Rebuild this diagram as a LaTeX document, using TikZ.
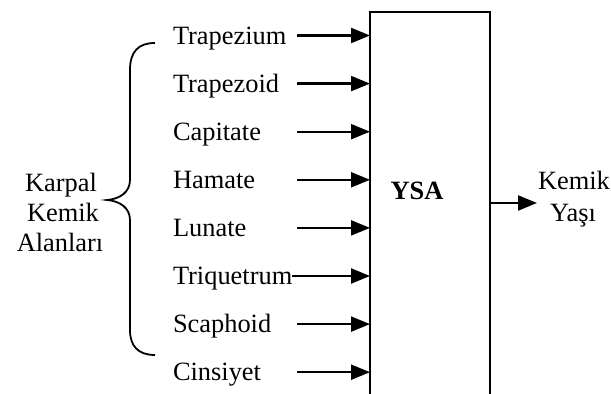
\documentclass[tikz,border=0pt]{standalone}
\usepackage{fontspec}
\setmainfont{Liberation Serif}
\usetikzlibrary{arrows.meta}
\begin{document}
\begin{tikzpicture}[x=0.5pt,y=-0.5pt,
  every node/.style={inner sep=0pt, outer sep=0pt, font=\fontsize{13.2}{15}\selectfont},
  inlabel/.style={anchor=west, text height=8.6pt, text depth=0pt},
  sidelabel/.style={anchor=base},
  arr/.style={line width=1.1pt, -{Triangle[length=9.5pt,width=7.5pt]}},
  blockbox/.style={draw, line width=1.1pt, minimum width=60pt, minimum height=196pt},
  bracestyle/.style={line width=0.9pt}]
  % page frame
  \clip (0,0) rectangle (611,394);

  % the network block (open below the page edge)
  \node[blockbox] (box) at (430,208) {};
  \node[font=\fontsize{13.2}{15}\selectfont\bfseries, anchor=base] (ysa) at (417,200) {YSA};

  % input labels
  \node[inlabel] (t1) at (173,35.5)  {Trapezium};
  \node[inlabel] (t2) at (173,83.6)  {Trapezoid};
  \node[inlabel] (t3) at (173,131.7) {Capitate};
  \node[inlabel] (t4) at (173,179.8) {Hamate};
  \node[inlabel] (t5) at (173,227.9) {Lunate};
  \node[inlabel] (t6) at (173,276)   {Triquetrum};
  \node[inlabel] (t7) at (173,324.1) {Scaphoid};
  \node[inlabel] (t8) at (173,372.2) {Cinsiyet};

  % arrow start points
  \foreach \i in {1,2,3,4,5,7,8} {
    \coordinate (s\i) at (t\i.west -| 297,0);
    \draw[arr] (s\i) -- (s\i -| box.west);
  }
  \draw[arr] (t6.east) -- (t6.east -| box.west);

  % output
  \coordinate (o) at (537,203);
  \draw[arr] (o -| box.east) -- (o);
  \node[sidelabel] (out1) at (574,190) {Kemik};
  \node[sidelabel] (out2) at (573,222) {Yaşı};

  % group label and brace
  \node[sidelabel] (g1) at (61,192) {Karpal};
  \node[sidelabel] (g2) at (63,222) {Kemik};
  \node[sidelabel] (g3) at (60,252) {Alanları};
  \draw[bracestyle] (155,43) .. controls (138,43) and (130,52) .. (130,70)
    -- (130,180) .. controls (130,192) and (120,199) .. (107,200)
    .. controls (120,201) and (130,208) .. (130,220)
    -- (130,330) .. controls (130,346) and (138,355) .. (155,355);
\end{tikzpicture}
\end{document}
